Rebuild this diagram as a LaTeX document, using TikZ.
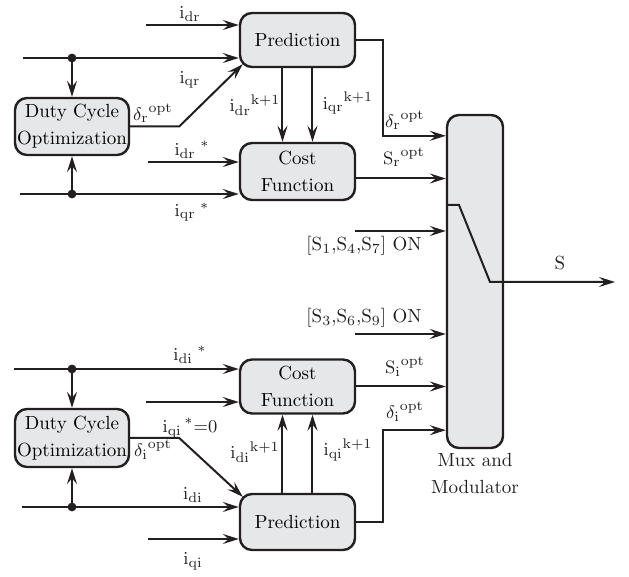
\documentclass[tikz,border=0pt]{standalone}
\usetikzlibrary{arrows.meta, calc}
\definecolor{boxgray}{HTML}{E6E7E8}
\definecolor{inkblack}{HTML}{231F20}

\begin{document}
\begin{tikzpicture}[x=0.5pt, y=-0.5pt, >={Stealth[length=8pt, width=5pt, inset=3pt]},
  font=\fontsize{9.5}{13.5}\selectfont,
  block/.style={draw=inkblack, fill=boxgray, line width=1.2pt, rounded corners=6pt, align=center, inner sep=0pt},
  sig/.style={draw=inkblack, line width=1pt},
  lbl/.style={text=inkblack, inner sep=0pt}]

\useasboundingbox (0,0) rectangle (629,577);

% --- Blocks ---
\node[block, minimum width=57.5pt, minimum height=27pt] (pred1) at (297.5,40) {Prediction};
\node[block, minimum width=57.5pt, minimum height=28.5pt] (cost1) at (297.5,171.5) {Cost\\Function};
\node[block, minimum width=57pt, minimum height=28.5pt] (duty1) at (72,126.5) {Duty Cycle\\Optimization};
\node[block, minimum width=57.5pt, minimum height=27pt] (cost2) at (297.5,386.5) {Cost\\Function};
\node[block, minimum width=57.5pt, minimum height=28pt] (pred2) at (297.5,522) {Prediction};
\node[block, minimum width=57pt, minimum height=29pt] (duty2) at (72,438) {Duty Cycle\\Optimization};
\node[block, minimum width=28pt, minimum height=166.5pt] (mux) at (475,281.5) {};
\node[lbl, align=center, anchor=north] (muxlbl) at ([yshift=-2pt]mux.south) {Mux and\\Modulator};

% --- Free ends and junctions ---
\coordinate (idr) at (146,25);
\coordinate (iqr) at (23,58);
\coordinate (jr1) at (72,58);
\coordinate (idrs) at (148,162);
\coordinate (iqrs) at (20,194);
\coordinate (jr2) at (72,194);
\coordinate (sa) at (355,231);
\coordinate (sb) at (355,334);
\coordinate (idis) at (14,369);
\coordinate (ji1) at (72,369);
\coordinate (iqis) at (146,402);
\coordinate (idi) at (22,507);
\coordinate (ji2) at (72,507);
\coordinate (iqi) at (148,539);
\coordinate (sw1) at (447,205);
\coordinate (sw2) at (490,282);
\coordinate (sout) at (615,282);

% --- Upper (rectifier) part ---
\draw[sig, ->] (idr) -- (idr -| pred1.west);
\draw[sig, ->] (iqr) -- (iqr -| pred1.west);
\fill[inkblack] (jr1) circle (2.2pt);
\draw[sig, ->] (jr1) -- (duty1);
\draw[sig, ->] (duty1.east) -- ++(49,0) -- ($(pred1.south west)+(4,-4)$);
\draw[sig, ->] (idrs) -- (idrs -| cost1.west);
\draw[sig, ->] (iqrs) -- (iqrs -| cost1.west);
\fill[inkblack] (jr2) circle (2.2pt);
\draw[sig, ->] (jr2) -- (duty1);
\draw[sig, ->] ([xshift=-7.5pt]pred1.south) -- ([xshift=-7.5pt]cost1.north);
\draw[sig, ->] ([xshift=7.5pt]pred1.south) -- ([xshift=7.5pt]cost1.north);
\draw[sig, ->] (pred1.east) -- ++(27,0) |- ($(mux.north west)+(0,22)$);
\draw[sig, ->] ([yshift=-3.5pt]cost1.east) -- ([yshift=-3.5pt]cost1.east -| mux.west);
\draw[sig, ->] (sa) -- (sa -| mux.west);

% --- Switch and output ---
\draw[sig, ->] (sw1) -- ++(12,0) -- (sw2) -- (sout);

% --- Lower (inverter) part ---
\draw[sig, ->] (sb) -- (sb -| mux.west);
\draw[sig, ->] (cost2.east) -- (cost2.east -| mux.west);
\draw[sig, ->] (pred2.east) -- ++(27,0) |- ($(mux.south west)+(0,-19)$);
\draw[sig, ->] (idis) -- (idis -| cost2.west);
\fill[inkblack] (ji1) circle (2.2pt);
\draw[sig, ->] (ji1) -- (duty2);
\draw[sig, ->] (iqis) -- (iqis -| cost2.west);
\draw[sig, ->] (duty2.east) -- ++(49,0) -- ($(pred2.north west)+(4,4)$);
\draw[sig, ->] (idi) -- (idi -| pred2.west);
\fill[inkblack] (ji2) circle (2.2pt);
\draw[sig, ->] (ji2) -- (duty2);
\draw[sig, ->] (iqi) -- (iqi -| pred2.west);
\draw[sig, ->] ([xshift=-7.5pt]pred2.north) -- ([xshift=-7.5pt]cost2.south);
\draw[sig, ->] ([xshift=7.5pt]pred2.north) -- ([xshift=7.5pt]cost2.south);

% --- Labels ---
\node[lbl] (lidr) at (190,14) {$\mathrm{i_{dr}}$};
\node[lbl] (liqr) at (190,80) {$\mathrm{i_{qr}}$};
\node[lbl] (ldr) at (153,113) {${\delta_{\mathrm{r}}}^{\mathrm{opt}}$};
\node[lbl] (lidrs) at (192,150) {${\mathrm{i_{dr}}}^{\;*}$};
\node[lbl] (liqrs) at (192,212) {${\mathrm{i_{qr}}}^{\;*}$};
\node[lbl] (lidrk) at (255,105) {${\mathrm{i_{dr}}}^{\mathrm{k+1}}$};
\node[lbl] (liqrk) at (348,103) {${\mathrm{i_{qr}}}^{\mathrm{k+1}}$};
\node[lbl] (ldro) at (405,120) {${\delta_{\mathrm{r}}}^{\mathrm{opt}}$};
\node[lbl] (lsro) at (404,157) {${\mathrm{S_r}}^{\mathrm{opt}}$};
\node[lbl] (lsa) at (364,246) {[S$_1$,S$_4$,S$_7$] ON};
\node[lbl] (ls) at (560,263) {S};
\node[lbl] (lsb) at (364,318) {[S$_3$,S$_6$,S$_9$] ON};
\node[lbl] (lsio) at (405,367) {${\mathrm{S_i}}^{\mathrm{opt}}$};
\node[lbl] (ldio) at (405,412) {${\delta_{\mathrm{i}}}^{\mathrm{opt}}$};
\node[lbl] (lidis) at (190,355) {${\mathrm{i_{di}}}^{\;*}$};
\node[lbl] (liqis) at (190,428) {${\mathrm{i_{qi}}}^{\,*}{=}0$};
\node[lbl] (ldi) at (153,450) {${\delta_{\mathrm{i}}}^{\mathrm{opt}}$};
\node[lbl] (lidik) at (255,452) {${\mathrm{i_{di}}}^{\mathrm{k+1}}$};
\node[lbl] (liqik) at (348,450) {${\mathrm{i_{qi}}}^{\mathrm{k+1}}$};
\node[lbl] (lidi) at (193,495) {$\mathrm{i_{di}}$};
\node[lbl] (liqi) at (193,561) {$\mathrm{i_{qi}}$};

\end{tikzpicture}
\end{document}
